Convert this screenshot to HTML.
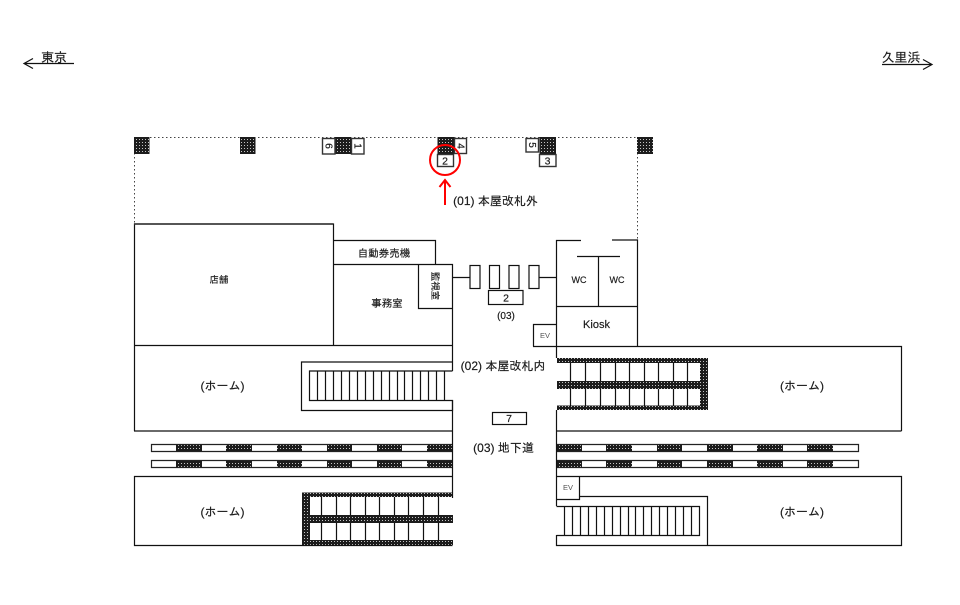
<!DOCTYPE html>
<html><head><meta charset="utf-8"><style>
html,body{margin:0;padding:0;background:#fff}
svg{display:block}
text{font-family:"Liberation Sans","IPAGothic","Noto Sans CJK JP",sans-serif;fill:#1a1a1a;stroke:#1a1a1a;stroke-width:.18;text-anchor:middle}
</style></head><body>
<svg width="960" height="605" viewBox="0 0 960 605" xmlns="http://www.w3.org/2000/svg">
<defs>
<pattern id="h" width="3" height="3" patternUnits="userSpaceOnUse">
<rect width="3" height="3" fill="#1c1c1c"/><rect x="1" y="1" width="1" height="1" fill="#c4c4c4"/>
</pattern>
</defs>
<rect width="960" height="605" fill="#fff"/>

<!-- direction arrows -->
<g fill="none" stroke="#111" stroke-width="1.2">
<path d="M74 63.500H24M33 58.500L24 63.500L33 68.500"/>
<path d="M882 64.500H932M923 59.500L932 64.500L923 69.500"/>
</g>
<text x="54" y="62" font-size="13">東京</text>
<text x="901" y="62" font-size="13">久里浜</text>

<!-- dotted -->
<g fill="none" stroke="#444" stroke-width="1" stroke-dasharray="1.500 2.500">
<path d="M134 137.500H637M134.500 137V223M637.500 137V240"/>
</g>

<!-- pillars -->
<g fill="url(#h)">
<rect x="134" y="137" width="15.500" height="17"/>
<rect x="240" y="137" width="15.500" height="17"/>
<rect x="335" y="137" width="16" height="17"/>
<rect x="437.500" y="137" width="16.500" height="17"/>
<rect x="539.500" y="137" width="16.500" height="17"/>
<rect x="637" y="137" width="16" height="17"/>
<!-- upper right stairs -->
<rect x="557" y="358" width="151" height="5"/>
<rect x="700" y="358" width="8" height="52"/>
<rect x="557" y="381" width="143" height="8"/>
<rect x="557" y="405.500" width="151" height="4.500"/>
<!-- lower left stairs -->
<rect x="302" y="492.500" width="151" height="4.500"/>
<rect x="302" y="492.500" width="8" height="52.500"/>
<rect x="310" y="515" width="143" height="8"/>
<rect x="302" y="540" width="151" height="5"/>
<!-- rails hatch -->
<rect x="176" y="444" width="26" height="8"/><rect x="226" y="444" width="26" height="8"/><rect x="277" y="444" width="25" height="8"/><rect x="327" y="444" width="25" height="8"/><rect x="377" y="444" width="25" height="8"/><rect x="427" y="444" width="26" height="8"/>
<rect x="176" y="460" width="26" height="8"/><rect x="226" y="460" width="26" height="8"/><rect x="277" y="460" width="25" height="8"/><rect x="327" y="460" width="25" height="8"/><rect x="377" y="460" width="25" height="8"/><rect x="427" y="460" width="26" height="8"/>
<rect x="556" y="444" width="26" height="8"/><rect x="606" y="444" width="26" height="8"/><rect x="657" y="444" width="25" height="8"/><rect x="707" y="444" width="26" height="8"/><rect x="757" y="444" width="26" height="8"/><rect x="807" y="444" width="26" height="8"/>
<rect x="556" y="460" width="26" height="8"/><rect x="606" y="460" width="26" height="8"/><rect x="657" y="460" width="25" height="8"/><rect x="707" y="460" width="26" height="8"/><rect x="757" y="460" width="26" height="8"/><rect x="807" y="460" width="26" height="8"/>
</g>

<!-- rail outlines -->
<g fill="none" stroke="#222" stroke-width="1.200">
<path d="M453 444.500H151.500V451.500H453M453 460.500H151.500V467.500H453"/>
<path d="M556 444.500H858.500V451.500H556M556 460.500H858.500V467.500H556"/>
</g>

<!-- top small boxes -->
<g fill="#fff" stroke="#333" stroke-width="1.400">
<rect x="322.500" y="138.500" width="12.500" height="15.500"/>
<rect x="351.500" y="138.500" width="12.500" height="15.500"/>
<rect x="437.500" y="154.500" width="16" height="12"/>
<rect x="454.500" y="138.500" width="12" height="15"/>
<rect x="526" y="138.500" width="12.500" height="13.500"/>
<rect x="539.500" y="154.500" width="16.500" height="12"/>
</g>

<!-- building lines -->
<g fill="none" stroke="#111" stroke-width="1.200">
<path d="M134.500 345V224H333.500V345"/>
<path d="M134 224H333" stroke="#333" stroke-width="1.600"/>
<path d="M333.500 240.500H435.500V264M333.500 264.500H452.500V371M418.500 264.500V308.500H452.500"/>
<path d="M134 345.500H452.500"/>
<path d="M134.500 345V431M134 431H452.500"/>
<path d="M452.500 277.500H469.500M539 277.500H556.500"/>
<!-- gates -->
<rect x="470" y="265.500" width="10" height="23" fill="#fff"/>
<rect x="489.500" y="265.500" width="10" height="23" fill="#fff"/>
<rect x="509" y="265.500" width="10" height="23" fill="#fff"/>
<rect x="529" y="265.500" width="10" height="23" fill="#fff"/>
<rect x="488.500" y="290.500" width="34.500" height="14" fill="#fff"/>
<!-- wc / kiosk -->
<path d="M581 240.500H556.500V358M612 240H637.500V346"/>
<path d="M577 256.500H620M598.500 256.500V306M556.500 306.500H637.500"/>
<path d="M533.500 346.500V324.500H556.500M533 346.500H901.500V431M556 431H901.500"/>
<!-- upper-left stairs -->
<path d="M452.500 362H301.500V410.500H452.500V400.500H309.500V371H452.500"/>
<path d="M317.500 371V400M325.500 371V400M333.500 371V400M341.500 371V400M349.500 371V400M357.500 371V400M365.500 371V400M373.500 371V400M381.500 371V400M389.500 371V400M397.500 371V400M404.500 371V400M412.500 371V400M420.500 371V400M428.500 371V400M436.500 371V400M444.500 371V400"/>
<path d="M452.500 400V498"/>
<path d="M556.500 410V506"/>
<!-- upper-right treads -->
<path d="M570.500 363V381M585.500 363V381M600.500 363V381M615.500 363V381M629.500 363V381M644.500 363V381M658.500 363V381M673.500 363V381M687.500 363V381"/>
<path d="M570.500 389V406M585.500 389V406M600.500 389V406M615.500 389V406M629.500 389V406M644.500 389V406M658.500 389V406M673.500 389V406M687.500 389V406"/>
<!-- lower-left treads -->
<path d="M321.500 497V515M336.500 497V515M350.500 497V515M365.500 497V515M379.500 497V515M394.500 497V515M408.500 497V515M423.500 497V515M438.500 497V515"/>
<path d="M321.500 523V540M336.500 523V540M350.500 523V540M365.500 523V540M379.500 523V540M394.500 523V540M408.500 523V540M423.500 523V540M438.500 523V540"/>
<!-- bottom platforms -->
<path d="M452.500 476.500H134.500V545.500H452.500"/>
<path d="M556.500 476.500H901.500V545.500H556.500V535"/>
<path d="M556.500 499.500H579.500V476.500"/>
<path d="M579.500 496.500H707.500V545"/>
<path d="M556.500 506.500H699.500V535.500H556.500"/>
<path d="M564.500 506V535M572.500 506V535M580.500 506V535M588.500 506V535M596.500 506V535M604.500 506V535M612.500 506V535M620.500 506V535M628.500 506V535M635.500 506V535M643.500 506V535M651.500 506V535M659.500 506V535M667.500 506V535M675.500 506V535M683.500 506V535M691.500 506V535"/>
<rect x="492.500" y="412.500" width="34" height="12"/>
</g>

<!-- red marker -->
<g fill="none" stroke="#f00" stroke-width="2">
<circle cx="445" cy="160" r="15"/>
<path d="M445 205V180M439.500 187L445 180L450.500 187"/>
</g>

<!-- labels -->
<text x="495.500" y="205" font-size="12">(01) 本屋改札外</text>
<text x="503" y="370" font-size="12">(02) 本屋改札内</text>
<text x="503.500" y="452" font-size="12">(03) 地下道</text>
<text x="506" y="319" font-size="10">(03)</text>
<text x="219" y="283" font-size="9.500">店舗</text>
<text x="384" y="257" font-size="10.500">自動券売機</text>
<text x="387" y="307" font-size="10.500">事務室</text>
<text transform="translate(432,286) rotate(90)" font-size="9.500">監視室</text>
<text x="579" y="283" font-size="9">WC</text>
<text x="617" y="283" font-size="9">WC</text>
<text x="596.500" y="328" font-size="11">Kiosk</text>
<text x="545" y="338" font-size="7.500" style="fill:#555;stroke:none">EV</text>
<text x="568" y="490" font-size="7.500" style="fill:#555;stroke:none">EV</text>
<text x="222.500" y="390" font-size="12">(ホーム)</text>
<text x="802" y="390" font-size="12">(ホーム)</text>
<text x="222.500" y="516" font-size="12">(ホーム)</text>
<text x="802" y="516" font-size="12">(ホーム)</text>
<text x="445" y="164.500" font-size="10.500">2</text>
<text x="547.500" y="164.500" font-size="10.500">3</text>
<text x="506" y="301.500" font-size="10.500">2</text>
<text x="509" y="422" font-size="10.500">7</text>
<text transform="translate(325.500,146) rotate(90)" font-size="10">6</text>
<text transform="translate(354.500,146) rotate(90)" font-size="10">1</text>
<text transform="translate(457.500,146) rotate(90)" font-size="10">4</text>
<text transform="translate(529,145) rotate(90)" font-size="10">5</text>
</svg>
</body></html>
